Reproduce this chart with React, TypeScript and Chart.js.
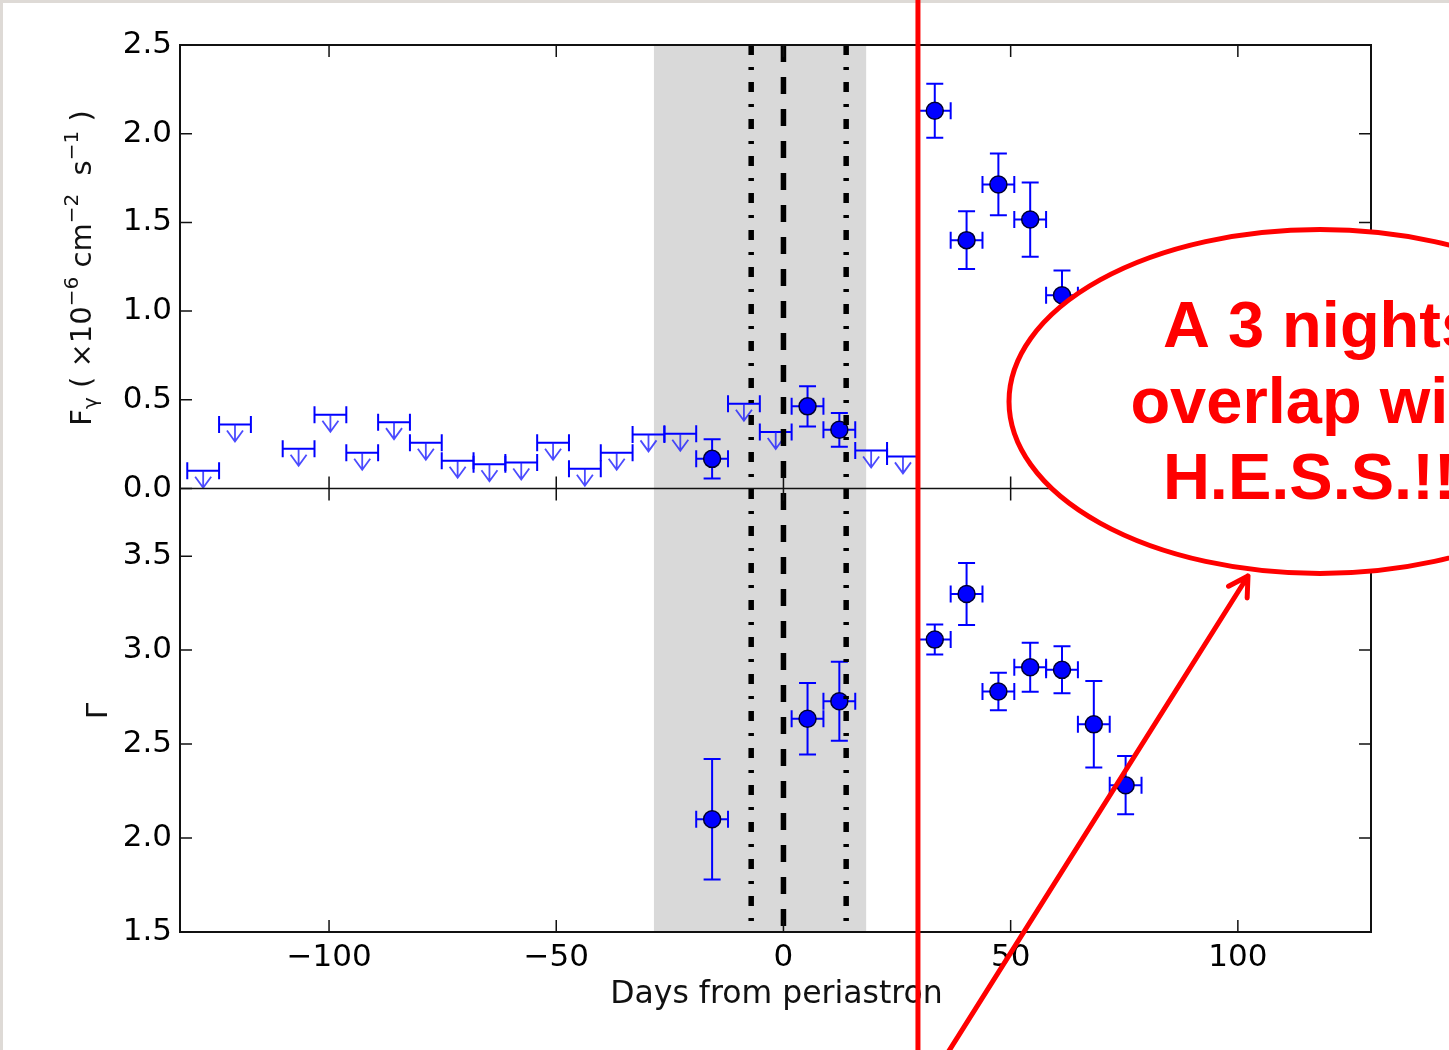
import React, { useEffect, useRef } from 'react';
import { Chart, registerables } from 'chart.js';

Chart.register(...registerables);

// ---------------- data ----------------
const xTicks = [-100, -50, 0, 50, 100];
const fluxTicks = [0, 0.5, 1.0, 1.5, 2.0, 2.5];
const gammaTicks = [1.5, 2.0, 2.5, 3.0, 3.5];

// flux detections (days, flux 1e-6, error)
const detDays = [-15.7, 5.3, 12.3, 33.3, 40.3, 47.3, 54.3, 61.3];
const detFlux = [0.167, 0.463, 0.331, 2.129, 1.4, 1.714, 1.516, 1.089];
const detFluxErr = [0.11, 0.113, 0.095, 0.152, 0.163, 0.174, 0.209, 0.14];

// flux upper limits
const ulDays = [-127.7, -120.7, -106.7, -99.7, -92.7, -85.7, -78.7, -71.7, -64.7, -57.7, -50.7, -43.7, -36.7, -29.7, -22.7, -8.7, -1.7, 19.3, 26.3];
const ulFlux = [0.1, 0.361, 0.224, 0.416, 0.201, 0.374, 0.258, 0.156, 0.137, 0.147, 0.258, 0.111, 0.201, 0.305, 0.309, 0.478, 0.318, 0.214, 0.181];

// photon index
const gammaDays = [-15.7, 5.3, 12.3, 33.3, 40.3, 47.3, 54.3, 61.3, 68.3, 75.3];
const gammaVals = [2.1, 2.635, 2.728, 3.056, 3.299, 2.78, 2.909, 2.895, 2.605, 2.281];
const gammaErr = [0.32, 0.19, 0.21, 0.08, 0.165, 0.1, 0.13, 0.125, 0.23, 0.155];

const binHalfWidth = 3.5;
const shadedDays = [-28.5, 18.2];
const dashDotDays = [-7.1, 13.8];
const dashedDays = [0];
const hessStartDay = 29.6;
const noteLines = ['A 3 nights', 'overlap with', 'H.E.S.S.!!!'];

// ---------------- style ----------------
const W = 1449;
const H = 1050;
const FONT = '"DejaVu Sans", Verdana, sans-serif';
const BLUE = '#0000ff';
const CAP = 8.5;
const TICK = 12;

const fmtX = (v: number) => (v < 0 ? '\u2212' + Math.abs(v) : String(v));

function drawErrBars(ctx: CanvasRenderingContext2D, chart: any, dsIndex: number, days: number[], vals: number[], errs: number[], yScale: any) {
  const xs = chart.scales.x;
  const meta = chart.getDatasetMeta(dsIndex);
  ctx.save();
  ctx.strokeStyle = BLUE;
  ctx.lineWidth = 2;
  meta.data.forEach((pt: any, i: number) => {
    const px = pt.x;
    const py = pt.y;
    const xl = xs.getPixelForValue(days[i] - binHalfWidth);
    const xr = xs.getPixelForValue(days[i] + binHalfWidth);
    const yt = yScale.getPixelForValue(vals[i] + errs[i]);
    const yb = yScale.getPixelForValue(vals[i] - errs[i]);
    ctx.beginPath();
    ctx.moveTo(xl, py); ctx.lineTo(xr, py);
    ctx.moveTo(xl, py - CAP); ctx.lineTo(xl, py + CAP);
    ctx.moveTo(xr, py - CAP); ctx.lineTo(xr, py + CAP);
    ctx.moveTo(px, yt); ctx.lineTo(px, yb);
    ctx.moveTo(px - CAP, yt); ctx.lineTo(px + CAP, yt);
    ctx.moveTo(px - CAP, yb); ctx.lineTo(px + CAP, yb);
    ctx.stroke();
  });
  ctx.restore();
}

function drawUpperLimits(ctx: CanvasRenderingContext2D, chart: any, dsIndex: number) {
  const xs = chart.scales.x;
  const meta = chart.getDatasetMeta(dsIndex);
  ctx.save();
  meta.data.forEach((pt: any, i: number) => {
    const px = pt.x;
    const py = pt.y;
    const xl = xs.getPixelForValue(ulDays[i] - binHalfWidth);
    const xr = xs.getPixelForValue(ulDays[i] + binHalfWidth);
    ctx.strokeStyle = BLUE;
    ctx.lineWidth = 2;
    ctx.beginPath();
    ctx.moveTo(xl, py); ctx.lineTo(xr, py);
    ctx.moveTo(xl, py - CAP); ctx.lineTo(xl, py + CAP);
    ctx.moveTo(xr, py - CAP); ctx.lineTo(xr, py + CAP);
    ctx.stroke();
    // arrow
    const tip = py + 17;
    ctx.strokeStyle = 'rgba(30,30,255,0.8)';
    ctx.lineWidth = 1.8;
    ctx.beginPath();
    ctx.moveTo(px, py); ctx.lineTo(px, tip);
    ctx.moveTo(px - 8, tip - 11); ctx.lineTo(px, tip); ctx.lineTo(px + 8, tip - 11);
    ctx.stroke();
  });
  ctx.restore();
}

function drawPieces(ctx: CanvasRenderingContext2D, pieces: { t: string; size: number; dy: number }[], cx: number) {
  let total = 0;
  pieces.forEach((p) => {
    ctx.font = `${p.size}px ${FONT}`;
    total += ctx.measureText(p.t).width;
  });
  let x = cx - total / 2;
  pieces.forEach((p) => {
    ctx.font = `${p.size}px ${FONT}`;
    ctx.fillText(p.t, x, p.dy);
    x += ctx.measureText(p.t).width;
  });
}

const customPlugin = {
  id: 'customDraw',
  beforeDraw(chart: any) {
    const ctx = chart.ctx as CanvasRenderingContext2D;
    ctx.save();
    ctx.fillStyle = '#ffffff';
    ctx.fillRect(0, 0, W, H);
    ctx.fillStyle = '#dedad6';
    ctx.fillRect(0, 0, W, 3);
    ctx.fillRect(0, 0, 3, H);
    ctx.restore();
  },
  beforeDatasetsDraw(chart: any) {
    const ctx = chart.ctx as CanvasRenderingContext2D;
    const a = chart.chartArea;
    const xs = chart.scales.x;
    ctx.save();
    ctx.beginPath();
    ctx.rect(a.left, a.top, a.right - a.left, a.bottom - a.top);
    ctx.clip();
    const x0 = xs.getPixelForValue(shadedDays[0]);
    const x1 = xs.getPixelForValue(shadedDays[1]);
    ctx.fillStyle = '#d9d9d9';
    ctx.fillRect(x0, a.top, x1 - x0, a.bottom - a.top);
    drawUpperLimits(ctx, chart, 0);
    drawErrBars(ctx, chart, 1, detDays, detFlux, detFluxErr, chart.scales.yF);
    drawErrBars(ctx, chart, 2, gammaDays, gammaVals, gammaErr, chart.scales.yG);
    ctx.restore();
  },
  afterDatasetsDraw(chart: any) {
    const ctx = chart.ctx as CanvasRenderingContext2D;
    const a = chart.chartArea;
    const xs = chart.scales.x;
    const yF = chart.scales.yF;
    const yG = chart.scales.yG;
    ctx.save();
    // vertical reference lines
    ctx.strokeStyle = '#000';
    ctx.lineWidth = 5.5;
    ctx.setLineDash([10, 12, 3, 12]);
    dashDotDays.forEach((d) => {
      const px = xs.getPixelForValue(d);
      ctx.beginPath();
      ctx.moveTo(px, a.top);
      ctx.lineTo(px, a.bottom);
      ctx.stroke();
    });
    ctx.setLineDash([17, 15]);
    dashedDays.forEach((d) => {
      const px = xs.getPixelForValue(d);
      ctx.beginPath();
      ctx.moveTo(px, a.top);
      ctx.lineTo(px, a.bottom);
      ctx.stroke();
    });
    ctx.setLineDash([]);
    // frame
    ctx.strokeStyle = '#111';
    ctx.lineWidth = 2;
    ctx.strokeRect(a.left, a.top, a.right - a.left, a.bottom - a.top);
    ctx.lineWidth = 1.5;
    ctx.beginPath();
    ctx.moveTo(a.left, yF.bottom);
    ctx.lineTo(a.right, yF.bottom);
    ctx.stroke();
    // inward ticks
    ctx.beginPath();
    [yF, yG].forEach((ys: any) => {
      xTicks.forEach((v) => {
        const px = xs.getPixelForValue(v);
        ctx.moveTo(px, ys.top); ctx.lineTo(px, ys.top + TICK);
        ctx.moveTo(px, ys.bottom); ctx.lineTo(px, ys.bottom - TICK);
      });
    });
    fluxTicks.forEach((v) => {
      const py = yF.getPixelForValue(v);
      ctx.moveTo(a.left, py); ctx.lineTo(a.left + TICK, py);
      ctx.moveTo(a.right, py); ctx.lineTo(a.right - TICK, py);
    });
    gammaTicks.forEach((v) => {
      const py = yG.getPixelForValue(v);
      ctx.moveTo(a.left, py); ctx.lineTo(a.left + TICK, py);
      ctx.moveTo(a.right, py); ctx.lineTo(a.right - TICK, py);
    });
    ctx.stroke();
    ctx.restore();
  },
  afterDraw(chart: any) {
    const ctx = chart.ctx as CanvasRenderingContext2D;
    const a = chart.chartArea;
    const xs = chart.scales.x;
    ctx.save();
    ctx.fillStyle = '#111';
    ctx.textBaseline = 'alphabetic';
    // x title
    ctx.font = `31.5px ${FONT}`;
    ctx.textAlign = 'center';
    ctx.fillText('Days from periastron', (a.left + a.right) / 2 + 1, 1003);
    // flux title
    ctx.save();
    ctx.translate(91, 268);
    ctx.rotate(-Math.PI / 2);
    ctx.textAlign = 'left';
    drawPieces(ctx, [
      { t: 'F', size: 29, dy: 0 },
      { t: '\u03b3', size: 20, dy: 6 },
      { t: ' ( \u00d710', size: 29, dy: 0 },
      { t: '\u22126', size: 20, dy: -13 },
      { t: ' cm', size: 29, dy: 0 },
      { t: '\u22122', size: 20, dy: -13 },
      { t: '  s', size: 29, dy: 0 },
      { t: '\u22121', size: 20, dy: -13 },
      { t: ' )', size: 29, dy: 0 },
    ], 0);
    ctx.restore();
    // gamma title
    ctx.save();
    ctx.translate(107, 711);
    ctx.rotate(-Math.PI / 2);
    ctx.textAlign = 'center';
    ctx.font = `29px ${FONT}`;
    ctx.fillText('\u0393', 0, 0);
    ctx.restore();

    // ---- red annotation overlay ----
    ctx.strokeStyle = '#ff0000';
    ctx.lineWidth = 5;
    const hx = xs.getPixelForValue(hessStartDay);
    ctx.beginPath();
    ctx.moveTo(hx, 0);
    ctx.lineTo(hx, H);
    ctx.stroke();

    ctx.beginPath();
    ctx.ellipse(1320, 401.5, 311, 172, 0, 0, Math.PI * 2);
    ctx.fillStyle = '#ffffff';
    ctx.fill();
    ctx.stroke();

    ctx.fillStyle = '#ff0000';
    ctx.font = 'bold 65px "Liberation Sans", Arial, sans-serif';
    ctx.textAlign = 'center';
    const baselines = [347, 423, 499];
    noteLines.forEach((t, i) => ctx.fillText(t, 1320, baselines[i]));

    // arrow
    const tail = { x: 947, y: 1054 };
    const tip = { x: 1248, y: 576 };
    ctx.lineCap = 'round';
    ctx.lineJoin = 'round';
    ctx.beginPath();
    ctx.moveTo(tail.x, tail.y);
    ctx.lineTo(tip.x, tip.y);
    const dx = tail.x - tip.x;
    const dy = tail.y - tip.y;
    const len = Math.hypot(dx, dy);
    const ux = dx / len;
    const uy = dy / len;
    const ang = Math.PI / 6;
    const bl = 22;
    const b1 = { x: ux * Math.cos(ang) - uy * Math.sin(ang), y: ux * Math.sin(ang) + uy * Math.cos(ang) };
    const b2 = { x: ux * Math.cos(-ang) - uy * Math.sin(-ang), y: ux * Math.sin(-ang) + uy * Math.cos(-ang) };
    ctx.moveTo(tip.x + b1.x * bl, tip.y + b1.y * bl);
    ctx.lineTo(tip.x, tip.y);
    ctx.lineTo(tip.x + b2.x * bl, tip.y + b2.y * bl);
    ctx.stroke();
    ctx.restore();
  },
};

const tickFont = { family: FONT, size: 31 };

export default function App() {
  const ref = useRef<HTMLCanvasElement>(null);
  useEffect(() => {
    document.body.style.margin = '0';
    const canvas = ref.current;
    if (!canvas) return;
    const pointStyle = {
      pointRadius: 8.5,
      pointBackgroundColor: BLUE,
      pointBorderColor: '#000030',
      pointBorderWidth: 1.5,
      showLine: false,
    };
    const chart = new Chart(canvas, {
      type: 'scatter',
      data: {
        datasets: [
          {
            label: 'Flux upper limits',
            data: ulDays.map((d, i) => ({ x: d, y: ulFlux[i] })),
            xAxisID: 'x',
            yAxisID: 'yF',
            pointRadius: 0,
            showLine: false,
          },
          {
            label: 'Flux',
            data: detDays.map((d, i) => ({ x: d, y: detFlux[i] })),
            xAxisID: 'x',
            yAxisID: 'yF',
            ...pointStyle,
          },
          {
            label: 'Photon index',
            data: gammaDays.map((d, i) => ({ x: d, y: gammaVals[i] })),
            xAxisID: 'x',
            yAxisID: 'yG',
            ...pointStyle,
          },
        ],
      },
      options: {
        animation: false,
        responsive: false,
        events: [],
        layout: { padding: { top: 45, right: 78, left: 0, bottom: 0 } },
        plugins: { legend: { display: false }, tooltip: { enabled: false }, title: { display: false } },
        scales: {
          x: {
            type: 'linear',
            position: 'bottom',
            min: -132.8,
            max: 129.3,
            grid: { display: false, drawTicks: false },
            border: { display: false },
            afterBuildTicks: (s: any) => { s.ticks = xTicks.map((v) => ({ value: v })); },
            afterFit: (s: any) => { s.height = 118; },
            ticks: { padding: 7, font: tickFont, color: '#000', autoSkip: false, maxRotation: 0, callback: (v: any) => fmtX(Number(v)) },
          },
          yG: {
            type: 'linear',
            position: 'left',
            stack: 'panels',
            stackWeight: 1,
            min: 1.5,
            max: 3.86,
            grid: { display: false, drawTicks: false },
            border: { display: false },
            afterBuildTicks: (s: any) => { s.ticks = gammaTicks.map((v) => ({ value: v })); },
            afterFit: (s: any) => { s.width = 180; },
            ticks: { padding: 8, font: tickFont, color: '#000', autoSkip: false, callback: (v: any) => Number(v).toFixed(1) },
          },
          yF: {
            type: 'linear',
            position: 'left',
            stack: 'panels',
            stackWeight: 1,
            min: 0,
            max: 2.5,
            grid: { display: false, drawTicks: false },
            border: { display: false },
            afterBuildTicks: (s: any) => { s.ticks = fluxTicks.map((v) => ({ value: v })); },
            afterFit: (s: any) => { s.width = 180; },
            ticks: { padding: 8, font: tickFont, color: '#000', autoSkip: false, callback: (v: any) => Number(v).toFixed(1) },
          },
        },
      } as any,
      plugins: [customPlugin as any],
    });
    return () => chart.destroy();
  }, []);
  return (
    <div style={{ width: W, height: H }}>
      <canvas ref={ref} width={W} height={H} style={{ display: 'block', width: W, height: H }} />
    </div>
  );
}
